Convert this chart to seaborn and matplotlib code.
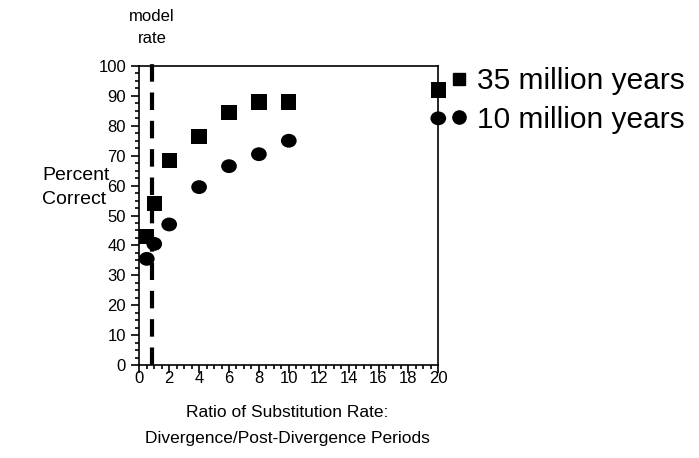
import matplotlib
matplotlib.use("Agg")
import matplotlib.pyplot as plt
import seaborn as sns
import pandas as pd
from matplotlib.ticker import MultipleLocator
from matplotlib.lines import Line2D
from matplotlib.markers import MarkerStyle
from matplotlib.transforms import Affine2D

sns.set_theme(style="white")
plt.rcParams['font.family'] = ['Liberation Sans', 'DejaVu Sans']
plt.rcParams['text.color'] = 'black'

# Data
ratio = [0.5, 1, 2, 4, 6, 8, 10, 20]
pct_35my = [43, 54, 68.5, 76.5, 84.5, 88, 88, 92]
pct_10my = [35.5, 40.5, 47, 59.5, 66.5, 70.5, 75, 82.5]
series_labels = ["35 million years", "10 million years"]
model_rate = 0.88

df35 = pd.DataFrame({"ratio": ratio, "pct": pct_35my})
df10 = pd.DataFrame({"ratio": ratio, "pct": pct_10my})

W, H = 699, 458
fig = plt.figure(figsize=(W / 100, H / 100), dpi=100)
ax = fig.add_axes([139.3 / W, 1 - 365 / H, 299 / W, 299 / H])

ax.axvline(model_rate, ymin=0, ymax=1.012, color="black", lw=3.0,
           dashes=(4.2, 2.6), clip_on=False, zorder=1)

ellipse = MarkerStyle("o", transform=Affine2D().scale(1.0, 0.88))
sns.scatterplot(data=df35, x="ratio", y="pct", marker="s", s=121, color="black",
                edgecolor="none", ax=ax, zorder=3, clip_on=False, legend=False)
sns.scatterplot(data=df10, x="ratio", y="pct", marker=ellipse, s=128, color="black",
                edgecolor="none", ax=ax, zorder=3, clip_on=False, legend=False)

ax.set_xlim(0, 20)
ax.set_ylim(0, 100)
ax.xaxis.set_major_locator(MultipleLocator(2))
ax.xaxis.set_minor_locator(MultipleLocator(0.5))
ax.yaxis.set_major_locator(MultipleLocator(10))
ax.yaxis.set_minor_locator(MultipleLocator(2.5))
ax.tick_params(axis="both", which="major", direction="out", length=6, width=1.2,
               color="black", labelsize=12, labelcolor="black",
               bottom=True, left=True)
ax.tick_params(axis="both", which="minor", direction="out", length=3, width=1.2,
               color="black", bottom=True, left=True)
ax.tick_params(axis="y", which="major", pad=3.5)
ax.tick_params(axis="x", which="major", pad=-1.5)
for sp in ax.spines.values():
    sp.set_visible(True)
    sp.set_color("black")
    sp.set_linewidth(1.2)
ax.grid(False)
ax.set_xlabel("")
ax.set_ylabel("")

def ftext(x, y, s, **kw):
    fig.text(x / W, 1 - y / H, s, va="baseline", color="black", **kw)

ftext(42, 180, "Percent", ha="left", fontsize=14)
ftext(42, 204, "Correct", ha="left", fontsize=14)
ftext(287, 417, "Ratio of Substitution Rate:", ha="center", fontsize=12.5)
ftext(287, 443, "Divergence/Post-Divergence Periods", ha="center", fontsize=12.5)
ftext(152, 20.7, "model", ha="center", fontsize=12)
ftext(152, 43, "rate", ha="center", fontsize=12)

handles = [Line2D([], [], marker="s", color="black", ls="none", markersize=9),
           Line2D([], [], marker="o", color="black", ls="none", markersize=9.5)]
fig.legend(handles, series_labels, loc="upper left",
           bbox_to_anchor=(447 / W, 1 - 67 / H), frameon=False, fontsize=21.5,
           handletextpad=0.22, labelspacing=0.36, handlelength=0.8, borderpad=0,
           borderaxespad=0, labelcolor="black")

fig.savefig("out.png", dpi=100)
